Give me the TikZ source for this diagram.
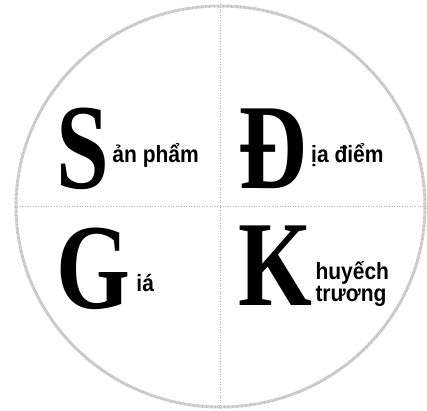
\documentclass[tikz,border=0pt]{standalone}
\usepackage{fontspec}
\setmainfont{Liberation Serif}
\setsansfont{Liberation Sans}
\usepackage{tikz}
\usetikzlibrary{shapes.geometric, positioning}
\tikzstyle{ring} = [ellipse, draw=gray!50, line width=3pt, dash pattern=on 0.8pt off 0.5pt, minimum width=409pt, minimum height=401pt, inner sep=0pt]
\tikzstyle{divider} = [draw=gray!60, line width=0.6pt, dotted]
\tikzstyle{initial} = [inner sep=0pt, font=\fontsize{95}{95}\selectfont\bfseries, yscale=1.28, transform shape, anchor=base west]
\tikzstyle{word} = [inner sep=0pt, font=\fontsize{21}{22}\selectfont\sffamily\bfseries, yscale=1.12, transform shape, anchor=base west]

\begin{document}
\begin{tikzpicture}[x=1pt, y=1pt]
\useasboundingbox (0,0) rectangle (427,410);

\node[ring] (circle) at (220.5,203.5) {};
    \draw[divider] (circle.north) -- (circle.south);
    \draw[divider] (circle.west) -- (circle.east);

\node[initial] (capS) at (56,222) {S};
\node[initial] (capD) at (238,222) {Đ};
\node[initial] (capG) at (56,102) {G};
\node[initial] (capK) at (238,105) {K};

\node[word] (sanpham) at ([xshift=3pt, yshift=26pt]capS.base east) {ản phẩm};
\node[word] (diadiem) at ([xshift=4pt, yshift=26pt]capD.base east) {ịa điểm};
\node[word] (gia) at ([xshift=6pt, yshift=17pt]capG.base east) {iá};
\node[word] (khuyech) at ([xshift=3pt, yshift=26pt]capK.base east) {huyếch};
\node[word] (khtruong) at ([yshift=-22pt]khuyech.base west) {trương};
\end{tikzpicture}
\end{document}
